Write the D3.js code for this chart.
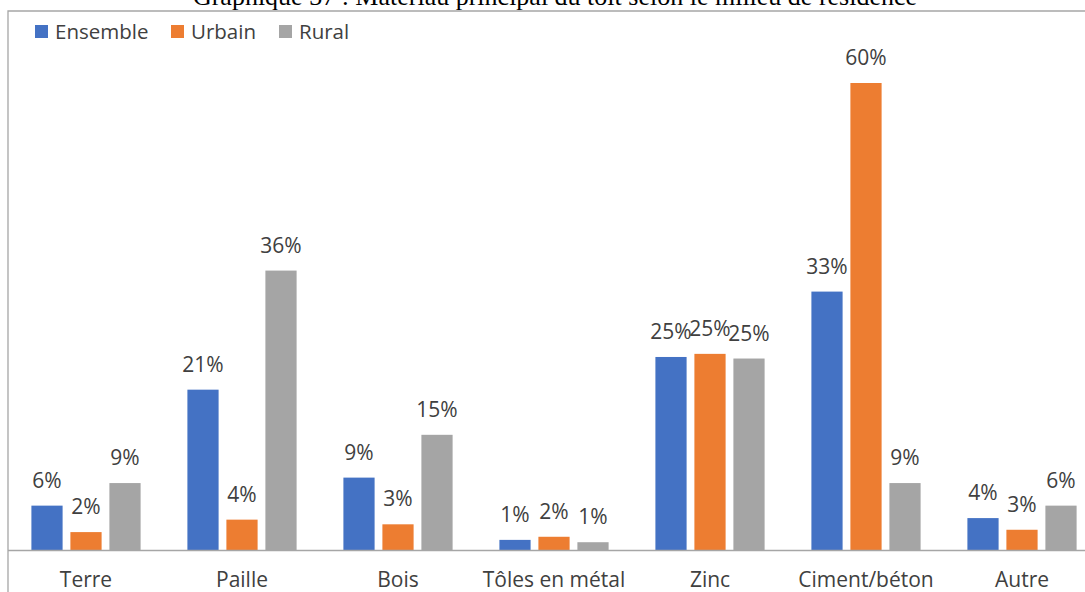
<!DOCTYPE html>
<html>
<head>
<meta charset="utf-8">
<script src="https://cdn.jsdelivr.net/npm/d3@7"></script>
<style>
  html, body { margin: 0; padding: 0; background: #fff; }
  svg { display: block; }
</style>
</head>
<body>
<svg id="chart" width="1085" height="592"></svg>
<script>
// Roof material by area of residence (shares)
const title = "Graphique 37 : Matériau principal du toit selon le milieu de résidence";
const categories = ["Terre", "Paille", "Bois", "Tôles en métal", "Zinc", "Ciment/béton", "Autre"];
const seriesNames = ["Ensemble", "Urbain", "Rural"];
const ensemble = [0.057, 0.206, 0.093, 0.013, 0.248, 0.332, 0.041];
const urbain   = [0.023, 0.039, 0.033, 0.017, 0.252, 0.600, 0.026];
const rural    = [0.086, 0.359, 0.148, 0.010, 0.246, 0.086, 0.057];
const colors = ["#4472C4", "#ED7D31", "#A5A5A5"];

const seriesValues = [ensemble, urbain, rural];
const font = "'Open Sans', 'Noto Sans', sans-serif";

const svg = d3.select("#chart");
const W = 1085, H = 592;

// chart frame
const frameX = 8, frameY = 11;
svg.append("path")
  .attr("d", `M${frameX},${H + 2} L${frameX},${frameY} L${W + 2},${frameY}`)
  .attr("fill", "none").attr("stroke", "#a6a6a6").attr("stroke-width", 1.3);

// title (sits above the frame)
svg.append("text")
  .attr("x", 555).attr("y", 5)
  .attr("text-anchor", "middle")
  .attr("font-family", "'Liberation Serif', 'Times New Roman', serif")
  .attr("font-size", 26)
  .attr("fill", "#000")
  .text(title);

// scales
const baseY = 550;
const x0 = d3.scaleBand().domain(categories).range([frameX, frameX + 1092])
  .paddingInner(0.3).paddingOuter(0.15);
const x1 = d3.scaleBand().domain(seriesNames).range([0, x0.bandwidth()])
  .paddingInner(0.2).paddingOuter(0);
const y = d3.scaleLinear().domain([0, 0.6]).range([baseY, 83]);
const pct = d3.format(".0%");

// bars
const groups = svg.append("g").selectAll("g")
  .data(categories)
  .join("g")
  .attr("transform", d => `translate(${x0(d)},0)`);

groups.selectAll("rect")
  .data((c, i) => seriesNames.map((s, k) => ({ s, k, v: seriesValues[k][i] })))
  .join("rect")
  .attr("x", d => x1(d.s))
  .attr("y", d => y(d.v))
  .attr("width", x1.bandwidth())
  .attr("height", d => baseY - y(d.v))
  .attr("fill", d => colors[d.k]);

// value labels
groups.selectAll("text.val")
  .data((c, i) => seriesNames.map((s, k) => ({ s, k, v: seriesValues[k][i] })))
  .join("text")
  .attr("class", "val")
  .attr("x", d => x1(d.s) + x1.bandwidth() / 2)
  .attr("y", d => y(d.v) - 18)
  .attr("text-anchor", "middle")
  .attr("font-family", font)
  .attr("font-size", 21)
  .attr("fill", "#404040")
  .text(d => pct(d.v));

// category axis
const xAxis = svg.append("g")
  .attr("transform", `translate(0,${baseY})`)
  .call(d3.axisBottom(x0).tickSize(0).tickPadding(22));
xAxis.select(".domain").attr("d", `M${frameX},0.5H${W + 2}`).attr("stroke", "#a6a6a6").attr("stroke-width", 1.3);
xAxis.selectAll("text")
  .attr("font-family", font)
  .attr("font-size", 21)
  .attr("fill", "#404040");

// legend
const legendItems = [
  { name: "Ensemble", x: 35 },
  { name: "Urbain", x: 171 },
  { name: "Rural", x: 279 }
];
const legend = svg.append("g").selectAll("g")
  .data(legendItems)
  .join("g")
  .attr("transform", d => `translate(${d.x},0)`);
legend.append("rect")
  .attr("x", 0).attr("y", 25).attr("width", 13).attr("height", 13)
  .attr("fill", (d, i) => colors[i]);
legend.append("text")
  .attr("x", 20).attr("y", 39)
  .attr("font-family", font)
  .attr("font-size", 20.5)
  .attr("fill", "#404040")
  .text(d => d.name);
</script>
</body>
</html>
